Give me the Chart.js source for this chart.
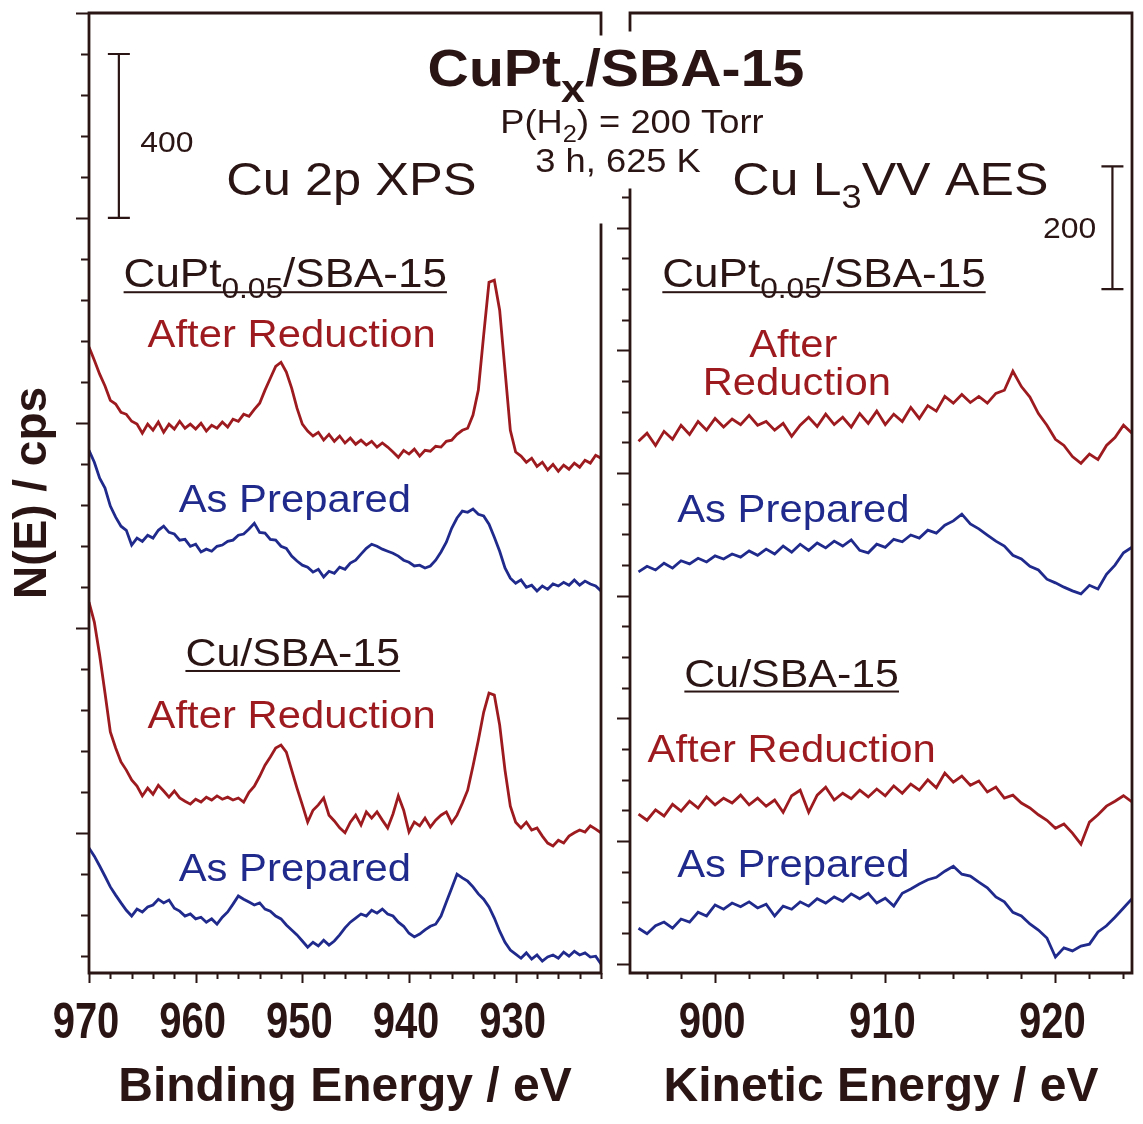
<!DOCTYPE html>
<html>
<head>
<meta charset="utf-8">
<title>CuPtx/SBA-15 XPS and AES</title>
<script src="https://cdn.jsdelivr.net/npm/chart.js@4.4.1/dist/chart.umd.min.js"></script>
<style>
  html, body { margin: 0; padding: 0; background: #ffffff; }
  #wrap { position: relative; width: 1143px; height: 1124px; }
  #wrap canvas { position: absolute; left: 0; top: 0; }
</style>
</head>
<body>
<div id="wrap">
  <canvas id="xpsChart" width="1143" height="1124" style="width:1143px;height:1124px"></canvas>
  <canvas id="aesChart" width="1143" height="1124" style="width:1143px;height:1124px"></canvas>
</div>
<script>
// sampling grids (eV)
const xpsEnergy = Array.from({ length: 97 }, (_, i) => 970 - 0.5 * i);
const aesEnergy = Array.from({ length: 59 }, (_, i) => 895.5 + 0.5 * i);

// tick labels
const xpsTickLabels = [970, 960, 950, 940, 930];
const aesTickLabels = [900, 910, 920];

// scale bars (cps)
const xpsScaleBar = 400;
const aesScaleBar = 200;

// Cu 2p XPS, stacked spectra (cps, offset)
const xpsCuPtReduced = [1185,1153,1119,1090,1055,1046,1026,1021,1004,997,
  975,997,982,1002,977,997,985,1004,987,997,
  985,999,980,994,987,1002,990,1009,1004,1021,
  1016,1033,1048,1080,1109,1138,1148,1124,1085,1036,
  997,980,968,977,958,972,955,968,951,963,
  948,958,946,955,941,951,941,929,916,933,
  924,936,919,933,931,943,941,955,958,972,
  982,987,1019,1080,1214,1343,1348,1275,1129,982,
  929,919,904,914,894,904,885,899,882,897,
  887,902,892,909,902,921,914];
const xpsCuPtPrepared = [933,904,865,841,797,770,748,738,702,719,
  711,726,719,738,748,733,729,714,716,699,
  704,685,692,687,699,702,711,714,726,729,
  741,755,733,731,716,714,699,694,675,663,
  653,648,636,643,624,638,633,648,643,658,
  665,680,694,704,699,692,687,682,675,665,
  660,651,653,646,651,665,685,709,743,768,
  785,782,790,777,773,753,721,687,646,621,
  609,617,599,604,590,602,594,607,602,611,
  604,617,604,614,607,602,590];
const xpsCuReduced = [563,514,433,341,246,207,173,153,129,114,
  90,109,94,116,102,87,102,85,77,70,
  82,75,87,80,90,82,87,80,85,75,
  99,114,138,165,185,207,214,197,153,109,
  68,26,55,68,85,43,29,12,0,26,
  43,19,51,36,51,31,12,46,90,55,
  2,26,17,36,14,31,43,51,24,43,
  72,104,163,226,294,341,336,263,153,65,
  26,12,26,7,12,-8,-25,-32,-18,-25,
  -8,0,7,2,17,9,0];
const xpsCuPrepared = [-37,-57,-81,-106,-132,-152,-171,-189,-203,-186,
  -193,-181,-176,-162,-171,-164,-184,-191,-203,-198,
  -210,-206,-218,-210,-223,-206,-193,-174,-154,-162,
  -169,-176,-171,-186,-191,-203,-210,-225,-237,-249,
  -264,-279,-267,-276,-262,-274,-264,-249,-232,-218,
  -208,-198,-203,-189,-196,-186,-198,-203,-218,-228,
  -245,-254,-247,-237,-228,-223,-203,-169,-135,-101,
  -110,-118,-132,-149,-162,-181,-208,-240,-267,-286,
  -296,-306,-293,-308,-298,-313,-303,-298,-306,-291,
  -301,-289,-298,-293,-303,-301,-320];

// Cu L3VV AES, stacked spectra (cps, offset)
const aesCuPtReduced = [852,865,845,868,855,878,863,884,870,889,
  875,888,879,894,878,884,870,881,860,878,
  891,876,896,879,891,875,897,881,901,879,
  896,884,907,889,910,901,925,914,928,915,
  925,914,930,935,966,941,924,897,878,855,
  845,827,816,831,822,845,858,878,865];
const aesCuPtPrepared = [639,648,642,653,645,657,652,661,655,665,
  660,668,663,673,666,676,668,681,671,684,
  674,686,678,689,681,691,674,670,684,679,
  692,688,699,694,707,702,715,722,733,717,
  709,699,689,681,666,660,648,642,627,621,
  614,608,603,617,611,635,650,670,679];
const aesCuReduced = [244,234,251,241,260,249,265,254,272,259,
  270,262,275,259,270,257,267,247,274,283,
  247,275,288,267,278,269,283,272,285,274,
  290,278,293,283,300,287,311,296,306,291,
  298,280,288,270,275,262,254,243,234,221,
  228,213,195,231,243,257,265,274,264];
const aesCuPrepared = [58,49,62,68,58,73,68,84,78,96,
  89,99,93,101,91,97,78,94,89,101,
  94,106,99,109,102,114,106,115,99,107,
  94,115,122,130,137,141,151,159,146,143,
  133,124,109,101,84,78,65,55,42,11,
  26,21,29,32,52,62,76,91,106];

const darkInk = '#2b1414';
const redInk = '#9d1b1f';
const blueInk = '#1f2a8c';
const sansFont = "'Liberation Sans', Arial, Helvetica, sans-serif";

function series(energies, values) {
  return energies.map((e, i) => ({ x: e, y: values[i] }));
}

function lineSet(energies, values, color) {
  return {
    data: series(energies, values),
    borderColor: color,
    borderWidth: 2.8,
    pointRadius: 0,
    tension: 0,
    fill: false
  };
}

// annotations are anchored in data units (eV, cps) of each panel
const xpsNotes = [
  { e: 920.6, v: 1821, parts: [['CuPt'], ['x', 1], ['/SBA-15']], size: 52, bold: true, color: darkInk, subScale: 0.75, subDrop: 0.3 },
  { e: 919.1, v: 1707, parts: [['P(H'], ['2', 1], [') = 200 Torr']], size: 33, color: darkInk },
  { e: 920.4, v: 1612, parts: [['3 h, 625 K']], size: 33, color: darkInk },
  { e: 945.4, v: 1555, parts: [['Cu 2p XPS']], size: 46, color: darkInk },
  { e: 965.2, v: 1660, parts: [[String(xpsScaleBar)]], size: 29, color: darkInk, align: 'left' },
  { e: 951.6, v: 1331, parts: [['CuPt'], ['0.05', 1], ['/SBA-15']], size: 40, color: darkInk, underline: 5, subScale: 0.72 },
  { e: 951.0, v: 1185, parts: [['After Reduction']], size: 38, color: redInk },
  { e: 950.7, v: 782, parts: [['As Prepared']], size: 38, color: blueInk },
  { e: 950.9, v: 407, parts: [['Cu/SBA-15']], size: 39, color: darkInk, underline: 5 },
  { e: 951.0, v: 255, parts: [['After Reduction']], size: 38, color: redInk },
  { e: 950.7, v: -118, parts: [['As Prepared']], size: 38, color: blueInk }
];

const aesNotes = [
  { e: 910.3, v: 1253, parts: [['Cu L'], ['3', 1], ['VV AES']], size: 47, color: darkInk },
  { e: 922.4, v: 1183, parts: [[String(aesScaleBar)]], size: 29, color: darkInk, align: 'right' },
  { e: 906.4, v: 1103, parts: [['CuPt'], ['0.05', 1], ['/SBA-15']], size: 40, color: darkInk, underline: 5, subScale: 0.72 },
  { e: 904.6, v: 989, parts: [['After']], size: 38, color: redInk },
  { e: 904.8, v: 927, parts: [['Reduction']], size: 38, color: redInk },
  { e: 904.6, v: 720, parts: [['As Prepared']], size: 38, color: blueInk },
  { e: 904.5, v: 452, parts: [['Cu/SBA-15']], size: 39, color: darkInk, underline: 5 },
  { e: 904.5, v: 329, parts: [['After Reduction']], size: 38, color: redInk },
  { e: 904.6, v: 141, parts: [['As Prepared']], size: 38, color: blueInk }
];

function drawNote(ctx, chart, n) {
  const px = chart.scales.x.getPixelForValue(n.e);
  const py = chart.scales.y.getPixelForValue(n.v);
  const size = n.size;
  const subSize = size * (n.subScale || 0.7);
  const weight = n.bold ? 'bold ' : '';
  const stretch = 1.1;
  const fontFor = p => weight + (p[1] ? subSize : size) + 'px ' + sansFont;
  const widths = n.parts.map(p => {
    ctx.font = fontFor(p);
    return ctx.measureText(p[0]).width * stretch;
  });
  const total = widths.reduce((s, w) => s + w, 0);
  let x = n.align === 'left' ? px : n.align === 'right' ? px - total : px - total / 2;
  const x0 = x;
  ctx.fillStyle = n.color;
  ctx.textAlign = 'left';
  ctx.textBaseline = 'alphabetic';
  n.parts.forEach((p, i) => {
    ctx.font = fontFor(p);
    ctx.save();
    ctx.translate(x, p[1] ? py + size * (n.subDrop || 0.28) : py);
    ctx.scale(stretch, 1);
    ctx.fillText(p[0], 0, 0);
    ctx.restore();
    x += widths[i];
  });
  if (n.underline) {
    ctx.fillRect(x0, py + n.underline - 1, total, 2);
  }
}

const framePlugin = {
  id: 'frame',
  afterDatasetsDraw(chart, args, opts) {
    const { ctx, chartArea: a, scales: { x, y } } = chart;
    ctx.save();
    ctx.strokeStyle = darkInk;
    ctx.lineCap = 'square';
    ctx.lineWidth = 2.8;
    ctx.beginPath();
    ctx.moveTo(a.left, a.bottom); ctx.lineTo(a.right, a.bottom);
    ctx.moveTo(a.left, a.top); ctx.lineTo(a.right, a.top);
    const inner = opts.gapSide === 'right' ? a.right : a.left;
    const outer = opts.gapSide === 'right' ? a.left : a.right;
    ctx.moveTo(outer, a.top); ctx.lineTo(outer, a.bottom);
    ctx.moveTo(inner, a.top); ctx.lineTo(inner, a.top + opts.gapTop);
    ctx.moveTo(inner, a.top + opts.gapBottom); ctx.lineTo(inner, a.bottom);
    ctx.stroke();

    // tick marks, outward
    ctx.lineCap = 'butt';
    ctx.lineWidth = 2;
    ctx.beginPath();
    const yt = opts.yTicks;
    for (let v = yt.from; v <= yt.to; v += yt.step) {
      const py = Math.round(y.getPixelForValue(v)) + 0.5;
      const len = v % yt.major === 0 ? 13 : 8;
      ctx.moveTo(a.left, py); ctx.lineTo(a.left - len, py);
    }
    const xt = opts.xTicks;
    for (let v = xt.from; v <= xt.to; v += xt.step) {
      const px = Math.round(x.getPixelForValue(v)) + 0.5;
      const len = v % xt.major === 0 ? 10 : 6;
      ctx.moveTo(px, a.bottom); ctx.lineTo(px, a.bottom + len);
    }
    ctx.stroke();

    // condensed bold tick labels at the scale's own ticks
    ctx.fillStyle = darkInk;
    ctx.font = 'bold 50px ' + sansFont;
    ctx.textAlign = 'center';
    ctx.textBaseline = 'alphabetic';
    x.ticks.forEach(t => {
      ctx.save();
      ctx.translate(x.getPixelForValue(t.value) - 3, a.bottom + 65);
      ctx.scale(0.8, 1);
      ctx.fillText(String(t.value), 0, 0);
      ctx.restore();
    });

    // intensity scale bar
    const b = opts.bar;
    const bx = x.getPixelForValue(b.e);
    const b1 = y.getPixelForValue(b.top);
    const b0 = y.getPixelForValue(b.top - b.size);
    ctx.lineWidth = 2.2;
    ctx.beginPath();
    ctx.moveTo(bx, b1); ctx.lineTo(bx, b0);
    ctx.moveTo(bx - 11, b1); ctx.lineTo(bx + 11, b1);
    ctx.moveTo(bx - 11, b0); ctx.lineTo(bx + 11, b0);
    ctx.stroke();

    opts.notes.forEach(n => drawNote(ctx, chart, n));
    ctx.restore();
  }
};

Chart.defaults.font.family = sansFont;

const titleFont = { family: sansFont, size: 48, weight: 'bold' };

new Chart(document.getElementById('xpsChart'), {
  type: 'line',
  data: {
    datasets: [
      lineSet(xpsEnergy, xpsCuPtReduced, redInk),
      lineSet(xpsEnergy, xpsCuPtPrepared, blueInk),
      lineSet(xpsEnergy, xpsCuReduced, redInk),
      lineSet(xpsEnergy, xpsCuPrepared, blueInk)
    ]
  },
  options: {
    responsive: false,
    animation: false,
    layout: { padding: { left: 0, right: 542, top: 13, bottom: 0 } },
    scales: {
      x: {
        type: 'linear',
        reverse: true,
        min: 922,
        max: 970,
        afterBuildTicks: s => { s.ticks = xpsTickLabels.map(v => ({ value: v })); },
        afterFit: s => { s.height = 151; },
        grid: { display: false },
        border: { display: false },
        ticks: { display: false },
        title: { display: true, text: 'Binding Energy / eV', color: darkInk, font: titleFont, padding: { top: 0, bottom: 7 } }
      },
      y: {
        type: 'linear',
        min: -342,
        max: 2000,
        afterFit: s => { s.width = 89; },
        grid: { display: false },
        border: { display: false },
        ticks: { display: false },
        title: { display: true, text: 'N(E) / cps', color: darkInk, font: { family: sansFont, size: 46, weight: 'bold' }, padding: { top: 6, bottom: 0 } }
      }
    },
    plugins: {
      legend: { display: false },
      tooltip: { enabled: false },
      frame: {
        gapSide: 'right', gapTop: 21, gapBottom: 212,
        yTicks: { from: -300, to: 2000, step: 100, major: 500 },
        xTicks: { from: 922, to: 970, step: 2, major: 10 },
        bar: { e: 967.2, top: 1900, size: xpsScaleBar },
        notes: xpsNotes
      }
    }
  },
  plugins: [framePlugin]
});

new Chart(document.getElementById('aesChart'), {
  type: 'line',
  data: {
    datasets: [
      lineSet(aesEnergy, aesCuPtReduced, redInk),
      lineSet(aesEnergy, aesCuPtPrepared, blueInk),
      lineSet(aesEnergy, aesCuReduced, redInk),
      lineSet(aesEnergy, aesCuPrepared, blueInk)
    ]
  },
  options: {
    responsive: false,
    animation: false,
    layout: { padding: { left: 630, right: 11, top: 13, bottom: 0 } },
    scales: {
      x: {
        type: 'linear',
        min: 895,
        max: 924.5,
        afterBuildTicks: s => { s.ticks = aesTickLabels.map(v => ({ value: v })); },
        afterFit: s => { s.height = 151; },
        grid: { display: false },
        border: { display: false },
        ticks: { display: false },
        title: { display: true, text: 'Kinetic Energy / eV', color: darkInk, font: titleFont, padding: { top: 0, bottom: 7 } }
      },
      y: {
        type: 'linear',
        display: false,
        min: -15,
        max: 1550
      }
    },
    plugins: {
      legend: { display: false },
      tooltip: { enabled: false },
      frame: {
        gapSide: 'left', gapTop: 17, gapBottom: 177,
        yTicks: { from: 0, to: 1250, step: 50, major: 200 },
        xTicks: { from: 896, to: 924, step: 2, major: 10 },
        bar: { e: 923.35, top: 1300, size: aesScaleBar },
        notes: aesNotes
      }
    }
  },
  plugins: [framePlugin]
});
</script>
</body>
</html>
